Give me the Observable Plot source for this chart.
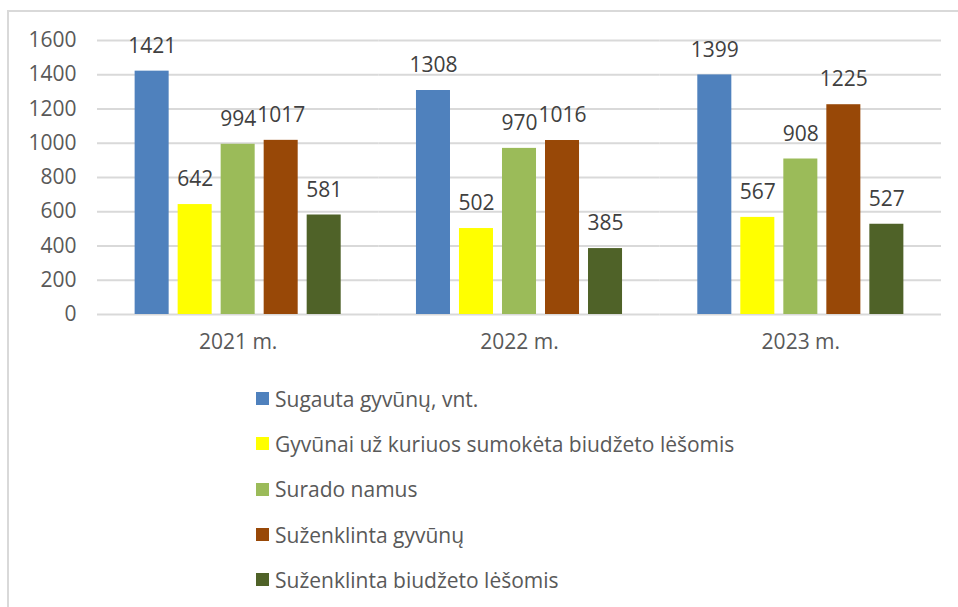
<!DOCTYPE html>
<html>
<head>
<meta charset="utf-8">
<script src="https://cdn.jsdelivr.net/npm/d3@7"></script>
<script src="https://cdn.jsdelivr.net/npm/@observablehq/plot@0.6"></script>
<style>
  html, body { margin: 0; padding: 0; background: #fff; }
  body { width: 958px; height: 607px; position: relative; overflow: hidden; font-family: "Open Sans", Lato, sans-serif; }
  #frame { position: absolute; left: 7px; top: 10px; width: 1000px; height: 700px; border-left: 2px solid #d9d9d9; border-top: 2px solid #d9d9d9; box-sizing: border-box; }
  #chart { position: absolute; left: 0; top: 0; }
  #legend { position: absolute; left: 256px; top: 376px; }
  .row { height: 45.3px; display: flex; align-items: center; font-size: 21px; color: #595959; }
  .sw { width: 13px; height: 13px; margin-right: 6px; flex: none; }
</style>
</head>
<body>
<div id="frame"></div>
<div id="chart"></div>
<div id="legend"></div>
<script>
const years = ["2021 m.", "2022 m.", "2023 m."];
const series = [
  "Sugauta gyvūnų, vnt.",
  "Gyvūnai už kuriuos sumokėta biudžeto lėšomis",
  "Surado namus",
  "Suženklinta gyvūnų",
  "Suženklinta biudžeto lėšomis"
];
const sugauta = [1421, 1308, 1399];
const sumoketa = [642, 502, 567];
const suradoNamus = [994, 970, 908];
const suzenklinta = [1017, 1016, 1225];
const suzenklintaBiudzeto = [581, 385, 527];
const colors = ["#4f81bd", "#ffff00", "#9bbb59", "#984807", "#4f6228"];
const yTicks = [0, 200, 400, 600, 800, 1000, 1200, 1400, 1600];

const seriesValues = [sugauta, sumoketa, suradoNamus, suzenklinta, suzenklintaBiudzeto];
const data = [];
years.forEach((yr, i) => {
  series.forEach((s, j) => data.push({year: yr, series: s, value: seriesValues[j][i]}));
});

const FS = 21;
const chart = Plot.plot({
  width: 958,
  height: 370,
  marginLeft: 97,
  marginRight: 17,
  marginTop: 40,
  marginBottom: 56,
  style: {fontFamily: "'Open Sans', Lato, sans-serif", fontSize: FS + "px", background: "transparent", overflow: "visible"},
  fx: {domain: years, padding: 0, label: null, round: false},
  x: {domain: series, paddingInner: 0.209, paddingOuter: 0.875, axis: null, round: false},
  y: {domain: [0, 1600], label: null},
  color: {domain: series, range: colors},
  marks: [
    Plot.gridY(yTicks, {stroke: "#d9d9d9", strokeOpacity: 1, strokeWidth: 2}),
    Plot.axisY(yTicks, {tickSize: 0, tickPadding: 21, fill: "#595959", fontSize: FS, label: null, tickFormat: d => String(d)}),
    Plot.axisFx({anchor: "bottom", tickSize: 0, tickPadding: 20, fill: "#595959", fontSize: FS, label: null}),
    Plot.barY(data, {fx: "year", x: "series", y: "value", fill: "series"}),
    Plot.text(data, {fx: "year", x: "series", y: "value", text: d => String(d.value), dy: -25, fill: "#404040", fontSize: FS, lineAnchor: "middle"})
  ]
});
document.getElementById("chart").appendChild(chart);

const legend = document.getElementById("legend");
series.forEach((s, j) => {
  const row = document.createElement("div");
  row.className = "row";
  const sw = document.createElement("span");
  sw.className = "sw";
  sw.style.background = colors[j];
  const t = document.createElement("span");
  t.textContent = s;
  row.appendChild(sw);
  row.appendChild(t);
  legend.appendChild(row);
});
</script>
</body>
</html>
